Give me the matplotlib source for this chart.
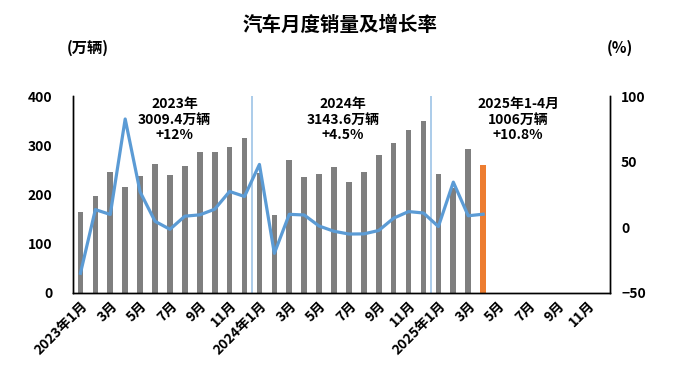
import matplotlib
matplotlib.use('Agg')
import matplotlib.pyplot as plt
import numpy as np

plt.rcParams['font.family'] = ['Noto Sans CJK SC', 'DejaVu Sans']
plt.rcParams['font.weight'] = 'bold'

# monthly sales, 10k vehicles (2023-01 .. 2025-04)
sales = [164.9, 197.6, 245.1, 215.9, 238.2, 262.2, 238.7, 258.2, 285.8, 285.3, 297.0, 315.6,
         243.9, 158.4, 269.4, 235.9, 241.7, 255.3, 226.2, 245.3, 280.9, 305.3, 331.6, 349.9,
         242.3, 212.8, 291.5, 259.0]
# year-on-year growth, %
growth = [-35.0, 13.5, 9.8, 82.5, 27.0, 4.6, -1.5, 8.5, 9.5, 13.8, 27.3, 23.5,
          47.9, -19.8, 9.9, 9.4, 1.0, -3.0, -5.1, -5.0, -2.4, 7.0, 12.0, 10.9,
          0.6, 34.4, 8.8, 10.0]
n_months = 36
tick_labels = ['2023年1月', '3月', '5月', '7月', '9月', '11月',
               '2024年1月', '3月', '5月', '7月', '9月', '11月',
               '2025年1月', '3月', '5月', '7月', '9月', '11月']
notes = ['2023年\n3009.4万辆\n+12%', '2024年\n3143.6万辆\n+4.5%', '2025年1-4月\n1006万辆\n+10.8%']
note_x = [6.3, 17.6, 29.35]

fig = plt.figure(figsize=(6.84, 3.89), dpi=100)
ax = fig.add_axes([0.1067, 0.2468, 0.785, 0.5064])
ax2 = ax.twinx()

x = np.arange(len(sales))
colors = ['#7F7F7F'] * (len(sales) - 1) + ['#ED7D31']
ax.bar(x, sales, width=0.38, color=colors, zorder=2)
ax.set_xlim(-0.5, n_months - 0.5)
ax.set_ylim(0, 400)
ax.set_yticks([0, 100, 200, 300, 400])
ax.set_xticks(np.arange(0, n_months, 2))
ax.set_xticklabels(tick_labels, rotation=45, ha='right', rotation_mode='anchor', fontsize=10, fontweight='bold')
ax.tick_params(axis='x', length=0, pad=4)
ax.tick_params(axis='y', length=0, labelsize=10, pad=15)
for t in ax.get_yticklabels():
    t.set_fontweight('bold')

# year separators
for b in [11.5, 23.5]:
    ax.axvline(b, color='#9DC3E6', lw=1.2, zorder=1)

ax2.plot(x, growth, color='#5B9BD5', lw=2.3, zorder=3)
ax2.set_ylim(-50, 100)
ax2.set_yticks([-50, 0, 50, 100])
ax2.tick_params(axis='y', length=0, labelsize=10, pad=8)
for t in ax2.get_yticklabels():
    t.set_fontweight('bold')

for a in (ax, ax2):
    a.spines['top'].set_visible(False)
    for s in ['left', 'right', 'bottom']:
        a.spines[s].set_color('black')
        a.spines[s].set_linewidth(1.0)

for xx, txt in zip(note_x, notes):
    ax.text(xx, 398, txt, ha='center', va='top', fontsize=10, fontweight='bold', linespacing=1.15)

fig.text(0.497, 0.935, '汽车月度销量及增长率', ha='center', va='center', fontsize=14, fontweight='bold')
fig.text(0.098, 0.878, '(万辆)', ha='left', va='center', fontsize=11, fontweight='bold')
fig.text(0.887, 0.878, '(%)', ha='left', va='center', fontsize=11, fontweight='bold')

fig.savefig('out.png', dpi=100)
